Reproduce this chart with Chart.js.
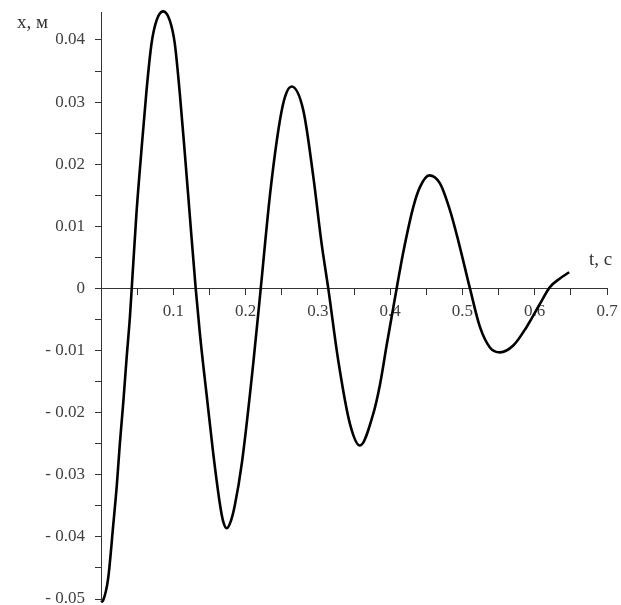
<!DOCTYPE html>
<html>
<head>
<meta charset="utf-8">
<script src="https://cdn.jsdelivr.net/npm/chart.js@4/dist/chart.umd.min.js"></script>
<style>
  html, body { margin: 0; padding: 0; background: #ffffff; }
  #wrap { width: 621px; height: 605px; position: relative; }
</style>
</head>
<body>
<div id="wrap"><canvas id="c" width="621" height="605"></canvas></div>
<script>
// Time values, s
const tValues = [0.000, 0.003, 0.010, 0.017, 0.022, 0.026, 0.031, 0.0355, 0.040, 0.0425,
  0.049, 0.056, 0.063, 0.070, 0.077, 0.086, 0.095, 0.102, 0.109, 0.116, 0.123, 0.131,
  0.137, 0.146, 0.155, 0.1645, 0.169, 0.174, 0.1795, 0.185, 0.195, 0.2107, 0.221,
  0.234, 0.2476, 0.255, 0.2637, 0.2798, 0.2937, 0.3052, 0.3144,
  0.3282, 0.3444, 0.3582, 0.3766, 0.3859, 0.3951, 0.409,
  0.4181, 0.432, 0.4412, 0.4541, 0.4689, 0.4827, 0.4942, 0.5104,
  0.5242, 0.538, 0.5519, 0.5703, 0.5888, 0.6072, 0.621, 0.6349, 0.6477];
// Displacement values, m
const xValues = [-0.0505, -0.0502, -0.0466, -0.0380, -0.0315, -0.0251, -0.0181, -0.0111, -0.0046, 0.0000,
  0.0120, 0.0223, 0.0319, 0.0395, 0.0432, 0.0446, 0.0432, 0.0395, 0.0314, 0.0217, 0.0115, 0.0000,
  -0.0075, -0.0170, -0.0263, -0.0347, -0.0375, -0.0386, -0.0375, -0.0350, -0.0280, -0.0120, 0.0000,
  0.0153, 0.0271, 0.0310, 0.0325, 0.0287, 0.0180, 0.0072, 0.0000,
  -0.0116, -0.0218, -0.0253, -0.0202, -0.0155, -0.0092, 0.0000,
  0.0058, 0.0131, 0.0163, 0.0182, 0.0169, 0.0126, 0.0077, 0.0000,
  -0.0062, -0.0095, -0.0103, -0.0092, -0.0062, -0.0025, 0.0002, 0.0016, 0.0026];

const xMajorTicks = [0.1, 0.2, 0.3, 0.4, 0.5, 0.6, 0.7];
const xTickLabels = ['0.1', '0.2', '0.3', '0.4', '0.5', '0.6', '0.7'];
const xMinorTicks = [0.05, 0.15, 0.25, 0.35, 0.45, 0.55, 0.65];

const yMajorTicks = [-0.05, -0.04, -0.03, -0.02, -0.01, 0, 0.01, 0.02, 0.03, 0.04];
const yTickLabels = ['- 0.05', '- 0.04', '- 0.03', '- 0.02', '- 0.01', '0', '0.01', '0.02', '0.03', '0.04'];
const yMinorTicks = [-0.045, -0.035, -0.025, -0.015, -0.005, 0.005, 0.015, 0.025, 0.035];

const yAxisTitle = 'x, м';
const xAxisTitle = 't, с';

const points = tValues.map((t, i) => ({ x: t, y: xValues[i] }));

function tickBuilder(major, labels, minor) {
  return function (scale) {
    const all = major.map((v, i) => ({ value: v, label: labels[i] }))
      .concat(minor.map(v => ({ value: v, label: '' })));
    all.sort((a, b) => a.value - b.value);
    scale.ticks = all.map(o => ({ value: o.value, label: o.label }));
  };
}

const titlePlugin = {
  id: 'axisTitles',
  afterDraw(chart) {
    const ctx = chart.ctx;
    const xs = chart.scales.x, ys = chart.scales.y;
    ctx.save();
    ctx.fillStyle = '#333333';
    ctx.font = '19px "Liberation Serif", serif';
    ctx.textAlign = 'left';
    ctx.textBaseline = 'alphabetic';
    ctx.fillText(yAxisTitle, xs.getPixelForValue(0) - 84, ys.getPixelForValue(0.04) - 12);
    ctx.fillText(xAxisTitle, xs.getPixelForValue(0.7) - 18, ys.getPixelForValue(0) - 23);
    ctx.restore();
  }
};

new Chart(document.getElementById('c'), {
  type: 'line',
  data: {
    datasets: [{
      data: points,
      borderColor: '#000000',
      borderWidth: 2.6,
      pointRadius: 0,
      fill: false,
      cubicInterpolationMode: 'monotone',
      clip: false
    }]
  },
  options: {
    responsive: false,
    animation: false,
    devicePixelRatio: 1,
    layout: { padding: { top: 12, right: 14, bottom: 6, left: 0 } },
    plugins: { legend: { display: false }, tooltip: { enabled: false } },
    scales: {
      x: {
        type: 'linear',
        min: 0,
        max: 0.7,
        position: { y: 0 },
        afterBuildTicks: tickBuilder(xMajorTicks, xTickLabels, xMinorTicks),
        afterFit(scale) { scale.height = 0; scale.paddingLeft = 0; scale.paddingRight = 0; scale.paddingTop = 0; scale.paddingBottom = 0; },
        grid: { drawOnChartArea: false, drawTicks: true, tickLength: 6, tickColor: '#333333' },
        border: { display: true, color: '#333333', width: 1 },
        ticks: {
          autoSkip: false,
          maxRotation: 0,
          padding: 7,
          color: '#404040',
          font: { family: '"Liberation Serif", serif', size: 17 },
          callback(value, index, ticks) { return ticks[index].label; }
        }
      },
      y: {
        type: 'linear',
        min: -0.05,
        max: 0.0445,
        position: 'left',
        afterBuildTicks: tickBuilder(yMajorTicks, yTickLabels, yMinorTicks),
        afterFit(scale) { scale.width = 101; scale.paddingTop = 0; scale.paddingBottom = 0; scale.paddingLeft = 0; scale.paddingRight = 0; },
        grid: { drawOnChartArea: false, drawTicks: true, tickLength: 6, tickColor: '#333333' },
        border: { display: true, color: '#333333', width: 1 },
        ticks: {
          autoSkip: false,
          padding: 10,
          color: '#404040',
          font: { family: '"Liberation Serif", serif', size: 17 },
          callback(value, index, ticks) { return ticks[index].label; }
        }
      }
    }
  },
  plugins: [titlePlugin]
});
</script>
</body>
</html>
